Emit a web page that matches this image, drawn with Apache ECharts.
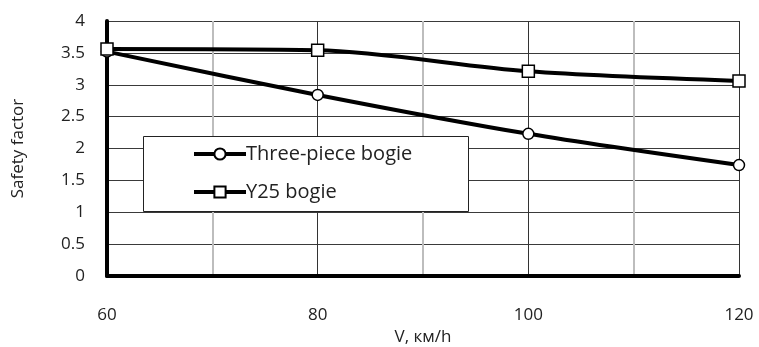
<!DOCTYPE html>
<html><head><meta charset="utf-8">
<script src="https://cdn.jsdelivr.net/npm/echarts@6/dist/echarts.min.js"></script>
<style>html,body{margin:0;padding:0;background:#fff}#c{width:759px;height:347px}</style>
</head><body><div id="c"></div>
<script>
const speeds = [60, 80, 100, 120];
const threePiece = [3.52, 2.84, 2.23, 1.74];
const y25 = [3.56, 3.54, 3.21, 3.06];
const seriesNames = ['Three-piece bogie', 'Y25 bogie'];
const xAxisName = 'V, км/h';
const yAxisName = 'Safety factor';

const FONT = 'Open Sans';
const chart = echarts.init(document.getElementById('c'));
chart.setOption({
  animation: false,
  backgroundColor: '#fff',
  grid: {left: 107, right: 20, top: 21, bottom: 71, containLabel: false, outerBoundsMode: 'none'},
  graphic: [{
    type: 'rect', left: 143, top: 136, z: 50,
    shape: {width: 325, height: 75},
    style: {fill: '#fff', stroke: '#222', lineWidth: 1}
  }],
  legend: {
    orient: 'vertical', left: 187, top: 139, z: 60,
    itemWidth: 52, itemHeight: 14, itemGap: 18,
    lineStyle: {width: 4, color: '#000'},
    textStyle: {fontFamily: FONT, fontSize: 20, color: '#222', padding: [0,0,0,-5]},
    data: seriesNames
  },
  xAxis: {
    type: 'value', min: 60, max: 120, interval: 20,
    name: xAxisName, nameLocation: 'middle', nameGap: 53,
    nameTextStyle: {fontFamily: FONT, fontSize: 17, color: '#222'},
    axisLine: {show: true, onZero: false, lineStyle: {color: '#000', width: 4}},
    axisTick: {show: false},
    axisLabel: {fontFamily: FONT, fontSize: 17, color: '#222', margin: 31},
    splitLine: {show: true, lineStyle: {color: '#333', width: 1}},
    minorTick: {show: false, splitNumber: 2},
    minorSplitLine: {show: true, lineStyle: {color: '#bdbdbd', width: 2}}
  },
  yAxis: {
    type: 'value', min: 0, max: 4, interval: 0.5,
    name: yAxisName, nameLocation: 'middle', nameGap: 80, nameRotate: 90,
    nameTextStyle: {fontFamily: FONT, fontSize: 17, color: '#222'},
    axisLine: {show: true, lineStyle: {color: '#000', width: 4}},
    axisTick: {show: false},
    axisLabel: {fontFamily: FONT, fontSize: 17, color: '#222', margin: 22},
    splitLine: {show: true, lineStyle: {color: '#3a3a3a', width: 1}}
  },
  series: [
    {
      name: seriesNames[0], type: 'line', smooth: 0.3,
      data: speeds.map((v, i) => [v, threePiece[i]]),
      symbol: 'circle', symbolSize: 11,
      lineStyle: {color: '#000', width: 4},
      itemStyle: {color: '#fff', borderColor: '#000', borderWidth: 1.5},
      z: 3
    },
    {
      name: seriesNames[1], type: 'line', smooth: 0.3,
      data: speeds.map((v, i) => [v, y25[i]]),
      symbol: 'rect', symbolSize: 12,
      lineStyle: {color: '#000', width: 4},
      itemStyle: {color: '#fff', borderColor: '#000', borderWidth: 1.5},
      z: 4
    }
  ]
});
</script></body></html>
